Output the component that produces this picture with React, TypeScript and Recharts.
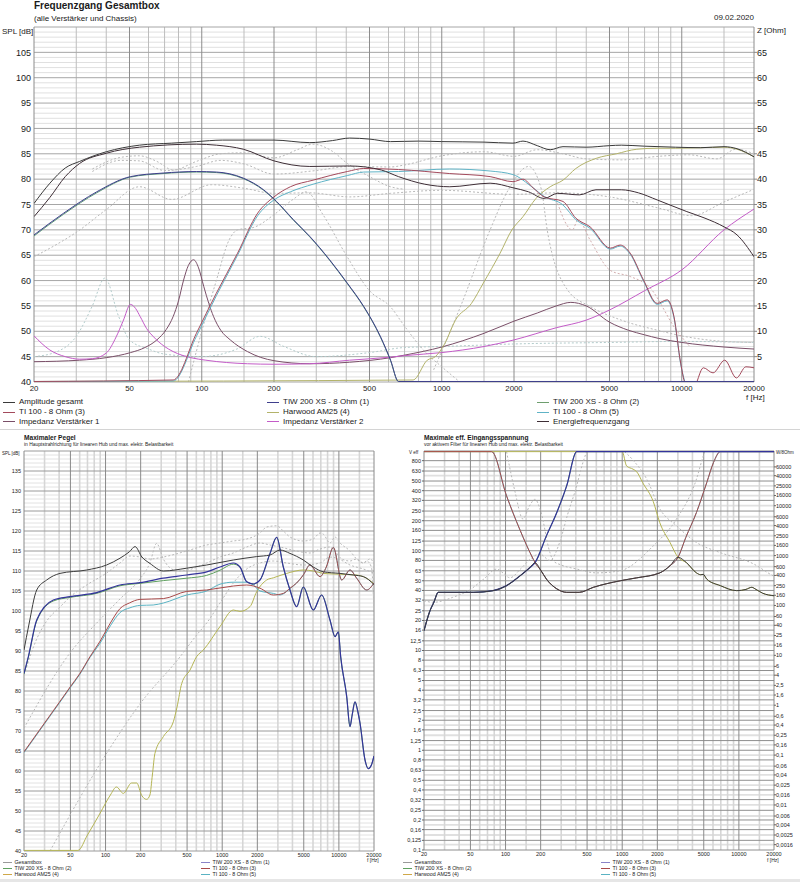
import React from 'react';
import { LineChart, Line, XAxis, YAxis, CartesianGrid } from 'recharts';

type P = [number, number];

// frequency axis shared by all three panels
const FREQ_TICKS = [20, 50, 100, 200, 500, 1000, 2000, 5000, 10000, 20000];
const FREQ_MINOR = [30, 40, 60, 70, 80, 90, 150, 300, 400, 600, 700, 800, 900, 1500, 3000, 4000, 6000, 7000, 8000, 9000, 15000];

// ---------- Frequenzgang Gesamtbox ----------
const SPL_TICKS = [40, 45, 50, 55, 60, 65, 70, 75, 80, 85, 90, 95, 100, 105];
const Z_TICKS = [5, 10, 15, 20, 25, 30, 35, 40, 45, 50, 55, 60, 65];

const AMP_TOTAL: P[] = [[20, 75.2], [23.3, 79.2], [27, 82.2], [31, 83.5], [40, 85.4], [55, 86.7], [75, 87.1], [95, 87.4], [122, 87.7], [200, 87.7], [282, 87.2], [350, 87.6], [413, 88.1], [500, 87.9], [612, 87.4], [800, 87.5], [1000, 87.4], [1500, 87.3], [1980, 87.1], [2180, 87.5], [2500, 86.6], [2830, 85.8], [3200, 86.4], [4000, 86.3], [5000, 86.6], [5600, 86.7], [7000, 86.5], [9400, 86.3], [12000, 86.2], [15000, 86.4], [17000, 86], [20000, 84.4]];
const ENERGY: P[] = [[20, 72.6], [23.3, 76.4], [27, 80.5], [31, 83.1], [40, 85.1], [55, 86.3], [95, 86.9], [115, 86.7], [149, 85.9], [200, 83.6], [282, 82.5], [413, 82.6], [560, 81.8], [660, 80.5], [850, 79], [1080, 78.5], [1590, 79.2], [1980, 78.3], [2300, 77.5], [2670, 76.2], [3040, 77.2], [3750, 76.9], [4390, 77.9], [5600, 77.9], [6600, 77.3], [7900, 75.9], [10500, 73.6], [12500, 72.3], [15000, 70.6], [17000, 69], [20000, 64.7]];
const TIW1_TOP: P[] = [[20, 69], [26.6, 73.3], [36.5, 77.5], [50.5, 80.5], [69, 81.2], [95, 81.5], [115, 81.4], [149, 80.2], [181, 77.9], [205, 75.6], [241, 72], [282, 68.7], [341, 64.1], [404, 59.5], [473, 54.9], [556, 48.9], [612, 44.3], [660, 40.1], [20000, 40.1]];
const TIW2_TOP: P[] = [[20, 68.8], [26.6, 73.1], [36.5, 77.3], [50.5, 80.4], [69, 81.1], [95, 81.4], [115, 81.3], [149, 80.1], [181, 77.8], [205, 75.5], [241, 71.9], [282, 68.6], [341, 64], [404, 59.4], [473, 54.8], [556, 48.8], [612, 44.2], [660, 40.1], [20000, 40.1]];
const TI3_TOP: P[] = [[20, 40.1], [76, 40.4], [95, 49.6], [115, 57.5], [141, 65.4], [171, 73.3], [200, 76.5], [234, 78.5], [291, 79.8], [404, 81.5], [473, 82.1], [660, 81.9], [1080, 81.1], [1590, 80.5], [1980, 79.5], [2180, 80], [2400, 78.3], [2670, 76.5], [3200, 75.6], [3620, 72.3], [4150, 70.6], [5040, 66.4], [5540, 67], [6100, 65.4], [6930, 60.1], [7900, 55.5], [8700, 56.2], [9280, 52.9], [9900, 43.7], [10300, 40], [11200, 39], [12300, 42.8], [13500, 41.8], [15100, 44.3], [16900, 40.8], [18500, 43], [20000, 42.8]];
const TI5_TOP: P[] = [[20, 40.1], [76, 40.2], [95, 49], [115, 57], [141, 65], [171, 72.8], [200, 75.9], [234, 77.5], [291, 79], [404, 80.7], [473, 81.4], [660, 81.5], [1080, 82], [1590, 81.6], [1980, 80.9], [2400, 78.3], [2670, 76.6], [3200, 74.9], [3620, 72], [4150, 70.3], [5040, 66.2], [5540, 66.8], [6100, 65.2], [6930, 59.9], [7900, 55.3], [8700, 56], [9280, 52.7], [9900, 43.5], [10300, 40]];
const AM25_TOP: P[] = [[20, 40.1], [760, 40.4], [870, 44.3], [940, 45], [1030, 47.6], [1140, 52.2], [1330, 55.5], [1490, 59.5], [1750, 65.4], [1960, 70], [2180, 72.6], [2470, 76.2], [2830, 78.5], [3200, 79.8], [3620, 82.1], [4400, 84.1], [5340, 85], [6500, 85.9], [7900, 86.1], [9400, 86.1], [12000, 86.2], [15000, 86.3], [17000, 85.9], [20000, 84.4]];
// impedances in Ohm (right axis)
const IMP_AMP1: P[] = [[20, 4.0], [31, 4.3], [40, 4.8], [50.5, 5.8], [58, 6.8], [65, 8.3], [71, 10.3], [76, 12.9], [80, 16], [84, 20.1], [88, 23], [92.5, 24.1], [97, 22.5], [102, 18.8], [107, 15.5], [112, 12.9], [120, 10.2], [131.5, 8.3], [155, 6], [200, 4.2], [282, 3.6], [413, 3.9], [612, 4.8], [700, 5.3], [1000, 6.9], [1500, 9.6], [2000, 12], [2500, 13.6], [3000, 15], [3450, 15.7], [4000, 15], [5000, 11.8], [6000, 10.2], [7000, 9.3], [8000, 8.6], [10000, 7.8], [15000, 6.9], [20000, 6.5]];
const IMP_AMP2: P[] = [[20, 9.1], [23.3, 6.3], [27, 5], [31, 4.5], [35, 4.6], [40, 5.7], [44, 8.9], [47, 12], [50.5, 15.3], [53, 14.5], [55.4, 12.9], [59, 10.5], [63, 8.9], [70, 7], [76, 6], [90, 4.8], [104, 4.3], [155, 3.6], [200, 3.5], [282, 3.6], [413, 4.3], [612, 4.9], [700, 5.2], [1000, 5.8], [1500, 7], [2000, 8.3], [3000, 10.7], [4000, 12.2], [5000, 14.2], [7000, 18], [10000, 22.1], [15000, 30], [20000, 34.1]];
// unlabelled dotted reference curves
const TOP_REF1: P[] = [[35, 82], [46, 84.3], [55, 84.6], [65, 83.5], [76, 81.8], [95, 83.5], [120, 85], [150, 85.2], [200, 84.2], [250, 85.8], [290, 86.9], [350, 85.5], [404, 83.1], [500, 80.5], [612, 78.5], [700, 78]];
const TOP_REF2: P[] = [[35, 81.5], [46, 83.7], [55, 83.6], [70, 81.7], [95, 82.5], [120, 83.7], [150, 83], [200, 81], [300, 81.7], [413, 82.5], [612, 82.4], [700, 82.8], [1000, 84.6], [1500, 85.4], [2000, 84.5], [2500, 85.8], [3200, 85], [4000, 84], [5600, 83.8], [8000, 84.5], [10700, 84.8], [14000, 84], [16800, 85.9], [20000, 85]];
const TOP_REF3: P[] = [[20, 64.7], [25, 67.2], [30, 69.5], [40, 74], [55, 78.5], [75, 76], [110, 78.9], [150, 78.2], [200, 77.2], [282, 77.3], [413, 76.5], [612, 77.2], [1000, 77.8], [2000, 77], [3000, 77.3], [5000, 76.5], [8000, 74.3], [11000, 72.8], [15000, 75.5], [20000, 78]];
const TOP_REF4: P[] = [[88, 40], [100, 50], [115, 60], [130, 68], [141, 70], [165, 70.5], [200, 73], [240, 76], [273, 77.5], [320, 73], [400, 65], [500, 58], [612, 54.8], [700, 51], [850, 46], [1000, 43], [1190, 40]];
const TOP_REF5: P[] = [[20, 45], [25, 46], [30, 49], [35, 55], [39.5, 60.5], [45, 53], [50, 48.3], [60, 46.5], [70, 45.5], [100, 45], [140, 46.5], [175, 49], [220, 47], [300, 45], [500, 45.8], [700, 46.8], [1000, 47], [2000, 47.5], [5000, 47.8], [10000, 48], [20000, 47.8]];
const TOP_REF6: P[] = [[925, 42.4], [1200, 55], [1590, 70], [1900, 78], [2300, 82.5], [2600, 78], [2750, 70], [3350, 58.1], [4150, 54.9], [5600, 52.2], [7930, 50.2], [10500, 48.9], [15000, 48], [20000, 47.8]];
const TOP_REF7: P[] = [[3000, 76], [3500, 70], [3700, 72], [4150, 68], [5040, 62], [6100, 60.8], [7300, 58.8], [9500, 50.2], [10800, 47]];

// ---------- Maximaler Pegel ----------
const MAX_SPL_TICKS = [40, 45, 50, 55, 60, 65, 70, 75, 80, 85, 90, 95, 100, 105, 110, 115, 120, 125, 130, 135];

const BOX_MAX: P[] = [[20, 90.25], [22, 96.5], [25.7, 105.25], [31.3, 107.75], [40.7, 109.4], [68.9, 110.25], [102, 111.5], [133, 113.2], [160, 114.8], [179, 116.1], [205, 113.5], [240, 111.9], [313, 110], [496, 110.7], [736, 111.5], [1245, 112.75], [1973, 113.6], [2570, 114], [3128, 115.25], [3810, 114.4], [4955, 112.75], [6035, 111], [7360, 109.8], [10230, 109.4], [13300, 109], [16200, 108.6], [20000, 106.6]];
const TIW1_MAX: P[] = [[20, 84.4], [21.8, 88.6], [25.7, 97.75], [35.7, 102.75], [49.6, 103.6], [84, 104.6], [133, 106.5], [197, 107.1], [313, 108.2], [496, 109], [736, 109.8], [957, 111], [1245, 112], [1420, 111], [1622, 107.3], [1849, 106.75], [2108, 107.75], [2570, 114.4], [2930, 118.4], [3340, 111], [3810, 105.25], [4345, 101.1], [4955, 106], [6035, 100.25], [7115, 104], [8390, 97.75], [9270, 93.6], [9890, 94.8], [10360, 88.6], [11670, 78.6], [12450, 71.1], [13000, 74], [13740, 77.3], [14500, 75], [15170, 72], [16750, 62.75], [17880, 60.6], [19000, 61.5], [20000, 63.75]];
const TIW2_MAX: P[] = [[20, 84.2], [21.8, 88.4], [25.7, 97.5], [35.7, 102.5], [49.6, 103.4], [84, 104.4], [133, 106.3], [197, 106.9], [313, 107.6], [496, 108.2], [736, 108.9], [957, 110.2], [1245, 111.7], [1420, 111], [1622, 107.3], [1849, 106.75], [2108, 107.75], [2570, 114.4], [2930, 118.4], [3340, 111], [3810, 105.25], [4345, 101.1], [4955, 106], [6035, 100.25], [7115, 104], [8390, 97.75], [9270, 93.6], [9890, 94.8], [10360, 88.6], [11670, 78.6], [12450, 71.1], [13000, 74], [13740, 77.3], [14500, 75], [15170, 72], [16750, 62.75], [17880, 60.6], [19000, 61.5], [20000, 63.75]];
const TI3_MAX: P[] = [[20, 64.8], [30, 72], [40, 77.1], [50, 81.1], [60, 84.3], [73.6, 88.6], [90, 92.5], [110, 97], [133, 100.6], [160, 102], [197, 102.9], [313, 103.1], [496, 104.9], [736, 105.25], [1245, 106.25], [1622, 106.5], [2108, 105.7], [2743, 104], [3340, 104.4], [3810, 105.7], [4345, 107], [4955, 109], [5650, 111.5], [6890, 108.6], [7800, 111], [8960, 115.9], [10570, 107.75], [12450, 110.25], [14200, 108.2], [17300, 105.25], [20000, 107]];
const TI5_MAX: P[] = [[20, 64.6], [30, 71.8], [40, 76.9], [50, 80.9], [60, 84.1], [73.6, 88.4], [90, 92], [110, 96.3], [133, 99.6], [162, 100.8], [197, 101.4], [256, 101.5], [313, 102], [496, 104], [736, 105], [957, 106.7], [1245, 107.2], [1622, 107.2], [1849, 106.5], [2108, 105], [2743, 104.4], [3128, 104], [3340, 104.3], [3810, 105.6], [4345, 107], [4955, 109], [5650, 111.5], [6890, 108.6], [7800, 111], [8960, 115.9], [10570, 107.75], [12450, 110.25], [14200, 108.2], [17300, 105.25], [20000, 107]];
const AM25_MAX: P[] = [[20, 40.15], [58, 40.15], [70, 44], [90, 49.5], [110, 54], [124, 56], [142, 54.4], [167, 57], [185, 57], [204, 53.9], [225, 52.9], [240, 54], [252, 59], [265, 64.4], [313, 68.6], [381, 72.3], [410, 76], [450, 81.9], [530, 85.25], [604, 88.6], [689, 90.25], [957, 96.1], [1245, 100.25], [1420, 99.9], [1731, 101.1], [1973, 104.8], [2405, 107.75], [2743, 108.3], [3570, 109.4], [4955, 110.25], [6035, 110], [7360, 109.4], [10000, 109.2], [14000, 109], [17000, 108.3], [20000, 106.8]];
const MAX_REF1: P[] = [[20, 84], [25.7, 93], [31.3, 97.5], [40.7, 101], [49.6, 103.5], [68.9, 106.5], [102, 109.5], [133, 112], [162, 113.75], [197, 113.5], [240, 113], [313, 113.5], [496, 115], [736, 116.5], [957, 117], [1245, 117.5], [1622, 118], [2108, 119.5], [2405, 121], [2930, 121.3], [3340, 120], [3810, 118.5], [4955, 117.5], [6035, 118], [6890, 119.5], [7360, 119.2], [8390, 117], [9270, 118.5], [10230, 117], [12450, 115], [14200, 113], [16200, 112], [17300, 112.5], [19000, 111], [20000, 100]];
const MAX_REF2: P[] = [[20, 70.7], [52, 90.3], [84, 97], [133, 103], [197, 108], [240, 112], [274, 116.9], [313, 113], [350, 111], [420, 110], [496, 110.2], [736, 112], [957, 113.5], [1245, 114.5], [1622, 116], [2108, 117], [2570, 116.5], [3128, 116], [4345, 115], [5650, 114.5], [6890, 115.5], [8390, 116], [9270, 115], [10570, 113], [12450, 112.5], [14200, 113], [16200, 112], [18500, 113], [20000, 112]];
const MAX_REF3: P[] = [[33.4, 40], [100, 64], [200, 77], [434, 88.5], [604, 94], [736, 97], [957, 102], [1245, 107], [1622, 110.5], [2108, 112], [2743, 112.5], [3570, 112], [4955, 111.5], [6890, 112], [8390, 113.5], [10000, 113], [12450, 111.5], [16200, 110.5], [20000, 109.5]];

// ---------- Maximale eff. Eingangsspannung ----------
const VOLT_TICKS = [800, 630, 500, 400, 320, 250, 200, 160, 125, 100, 80, 63, 50, 40, 32, 25, 20, 16, 12.5, 10, 8, 6.3, 5, 4, 3.2, 2.5, 2, 1.6, 1.25, 1, 0.8, 0.63, 0.5, 0.4, 0.32, 0.25, 0.2, 0.16, 0.125, 0.1];
const WATT_TICKS = [60000, 40000, 25000, 16000, 10000, 6000, 4000, 2500, 1600, 1000, 600, 400, 250, 160, 100, 60, 40, 25, 16, 10, 6, 4, 2.5, 1.6, 1, 0.6, 0.4, 0.25, 0.16, 0.1, 0.06, 0.04, 0.025, 0.016, 0.01, 0.006, 0.004, 0.0025, 0.0016];

const BOX_VOLT: P[] = [[20, 15.8], [22.5, 25], [24.3, 30.4], [26.5, 38.3], [53, 38.3], [78, 39.8], [102, 44.7], [133, 56], [162, 68], [179, 76], [200, 64], [224, 52], [275, 41.5], [334, 38.3], [428, 38.3], [566, 43], [960, 50], [1330, 53.5], [2100, 60], [2570, 70.8], [3010, 86], [3550, 76], [4330, 60], [4700, 57.5], [4950, 58], [5300, 52], [6930, 44.7], [9600, 39.8], [11500, 41], [12900, 43], [14000, 41], [16000, 37.5], [20000, 35.4]];
const TIW1_VOLT: P[] = [[20, 15.8], [22.5, 25], [24.3, 30.4], [26.5, 38.3], [53, 38.3], [78, 39.8], [102, 44.7], [133, 56], [162, 68], [179, 76], [224, 141], [275, 242], [334, 447], [407, 985], [20000, 985]];
const TI3_VOLT: P[] = [[20, 985], [76, 985], [102, 355], [132, 165], [173, 82], [179, 76], [200, 64], [224, 52], [275, 41.5], [334, 38.3], [428, 38.3], [566, 43], [960, 50], [1330, 53.5], [2100, 60], [2570, 70.8], [3010, 86], [3500, 135], [4330, 242], [5300, 481], [6060, 766], [6930, 985], [20000, 985]];
const AM25_VOLT: P[] = [[20, 985], [1000, 985], [1090, 708], [1240, 657], [1330, 620], [1500, 480], [1846, 311], [2100, 191], [2570, 121], [3010, 86], [3550, 76], [4330, 60], [4700, 57.5], [4950, 58], [5300, 52], [6930, 44.7], [9600, 39.8], [11500, 41], [12900, 43], [14000, 41], [16000, 37.5], [20000, 35.4]];
const VOLT_REF1: P[] = [[20, 31.6], [24, 30.4], [35, 34], [50, 41], [65, 52], [84, 65.6], [95, 60], [109, 53.5], [135, 66], [162, 82], [196, 93], [240, 80], [290, 120], [340, 230], [407, 447], [450, 700], [495, 985]];
const VOLT_REF2: P[] = [[102, 985], [120, 400], [141, 208], [160, 280], [179, 328], [200, 250], [240, 96], [257, 79], [300, 72], [407, 65.6], [604, 60], [957, 63], [1846, 112], [2920, 208], [4330, 523], [4950, 891], [5100, 985]];
const VOLT_REF3: P[] = [[1050, 985], [1250, 800], [1622, 523], [2110, 261], [2920, 178], [4330, 121], [6890, 96], [13300, 74], [19700, 56], [20000, 55.5]];

const FONT = '"Liberation Sans", Arial, sans-serif';
const DOT = '#b9b9b9';

type Series = { id: string; data: P[]; color: string; dash?: string; axis?: string; w?: number };

const rows = (a: P[]) => a.map(([f, v]) => ({ f, v }));
const comma = (v: number) => String(v).replace('.', ',');

function lines(list: Series[], axis: string) {
  return list.map((s) => (
    <Line
      key={s.id}
      name={s.id}
      data={rows(s.data)}
      dataKey="v"
      xAxisId="f"
      yAxisId={s.axis ?? axis}
      type="monotone"
      stroke={s.color}
      strokeWidth={s.w ?? 1}
      strokeDasharray={s.dash}
      dot={false}
      activeDot={false}
      isAnimationActive={false}
    />
  ));
}

function Txt({ x, y, size, bold, right, children }: { x: number; y: number; size: number; bold?: boolean; right?: boolean; children: React.ReactNode }) {
  const pos = right ? { right: 800 - x } : { left: x };
  return (
    <div style={{ position: 'absolute', top: y, ...pos, fontSize: size, fontWeight: bold ? 700 : 400, lineHeight: 1, whiteSpace: 'nowrap', color: '#1a1a1a' }}>
      {children}
    </div>
  );
}

type Entry = { label: string; color: string; x: number; y: number };

function Legend({ items, size, len, gap }: { items: Entry[]; size: number; len: number; gap: number }) {
  return (
    <>
      {items.map((it) => (
        <div key={it.label + it.x + it.y} style={{ position: 'absolute', left: it.x, top: it.y - size / 2, height: size, display: 'flex', alignItems: 'center', fontSize: size, lineHeight: 1, whiteSpace: 'nowrap', color: '#1a1a1a' }}>
          <span style={{ display: 'inline-block', width: len, height: 1, background: it.color, marginRight: gap }} />
          {it.label}
        </div>
      ))}
    </>
  );
}

const topSeries: Series[] = [
  { id: 'ref5', data: TOP_REF5, color: '#b3cccc', dash: '2 2' },
  { id: 'ref4', data: TOP_REF4, color: DOT, dash: '2 2' },
  { id: 'ref3', data: TOP_REF3, color: DOT, dash: '2 2' },
  { id: 'ref2', data: TOP_REF2, color: DOT, dash: '2 2' },
  { id: 'ref1', data: TOP_REF1, color: DOT, dash: '2 2' },
  { id: 'ref6', data: TOP_REF6, color: DOT, dash: '2 2' },
  { id: 'ref7', data: TOP_REF7, color: '#d2adad', dash: '2 2' },
  { id: 'imp1', data: IMP_AMP1, color: '#7a4f68', axis: 'z' },
  { id: 'imp2', data: IMP_AMP2, color: '#c45cc8', axis: 'z' },
  { id: 'am25', data: AM25_TOP, color: '#b3b36a' },
  { id: 'ti5', data: TI5_TOP, color: '#5fb3c6' },
  { id: 'ti3', data: TI3_TOP, color: '#a34a5c' },
  { id: 'tiw2', data: TIW2_TOP, color: '#5d9a78' },
  { id: 'tiw1', data: TIW1_TOP, color: '#3f3f8c' },
  { id: 'energy', data: ENERGY, color: '#3e2e36' },
  { id: 'amp', data: AMP_TOTAL, color: '#3a3a3a' },
];

const maxSeries: Series[] = [
  { id: 'r3', data: MAX_REF3, color: DOT, dash: '2 2' },
  { id: 'r2', data: MAX_REF2, color: DOT, dash: '2 2' },
  { id: 'r1', data: MAX_REF1, color: DOT, dash: '2 2' },
  { id: 'am25', data: AM25_MAX, color: '#b5b555' },
  { id: 'ti5', data: TI5_MAX, color: '#5ab3c3' },
  { id: 'ti3', data: TI3_MAX, color: '#a84a4a' },
  { id: 'tiw2', data: TIW2_MAX, color: '#5fa05f' },
  { id: 'tiw1', data: TIW1_MAX, color: '#34349c', w: 1.2 },
  { id: 'box', data: BOX_MAX, color: '#3c3c3c' },
];

const voltSeries: Series[] = [
  { id: 'r1', data: VOLT_REF1, color: DOT, dash: '2 2' },
  { id: 'r2', data: VOLT_REF2, color: DOT, dash: '2 2' },
  { id: 'r3', data: VOLT_REF3, color: DOT, dash: '2 2' },
  { id: 'tiw2', data: TIW1_VOLT, color: '#5fa05f' },
  { id: 'ti5', data: TI3_VOLT, color: '#5ab3c3' },
  { id: 'am25', data: AM25_VOLT, color: '#b5b555' },
  { id: 'ti3', data: TI3_VOLT, color: '#a84a4a' },
  { id: 'tiw1', data: TIW1_VOLT, color: '#34349c', w: 1.2 },
  { id: 'box', data: BOX_VOLT, color: '#3c3c3c' },
];

const range = (a: number, b: number) => Array.from({ length: b - a + 1 }, (_, i) => a + i);
const SPL_MAJOR = [...SPL_TICKS, 110];
const SPL_MINOR = range(40, 110).filter((v) => v % 5 !== 0);
const MAX_MAJOR = [...MAX_SPL_TICKS, 140];
const MAX_MINOR = range(40, 140).filter((v) => v % 5 !== 0);

export default function App() {
  const tick = (size: number) => ({ fontSize: size, fill: '#1a1a1a' });
  return (
    <div style={{ position: 'absolute', left: 0, top: 0, width: 800, height: 882, background: '#fff', overflow: 'hidden', fontFamily: FONT }}>
      {/* top panel */}
      <Txt x={34} y={1} size={10} bold>Frequenzgang Gesamtbox</Txt>
      <Txt x={34} y={14.5} size={8}>(alle Verstärker und Chassis)</Txt>
      <Txt x={754} y={13.5} size={8} right>09.02.2020</Txt>
      <Txt x={2} y={27.5} size={8}>SPL [dB]</Txt>
      <Txt x={757} y={27} size={8}>Z [Ohm]</Txt>
      <Txt x={746} y={394} size={8}>f [Hz]</Txt>
      <div style={{ position: 'absolute', left: 0, top: 0 }}>
        <LineChart width={800} height={405} margin={{ top: 27, right: 0, bottom: 0, left: 0 }}>
          <CartesianGrid xAxisId="f" yAxisId="spl" vertical={false} horizontalValues={SPL_MINOR} stroke="#e0e0e0" />
          <CartesianGrid xAxisId="f" yAxisId="spl" horizontal={false} verticalValues={FREQ_MINOR} stroke="#bdbdbd" />
          <CartesianGrid xAxisId="f" yAxisId="spl" vertical={false} horizontalValues={SPL_MAJOR} stroke="#a6a6a6" />
          <CartesianGrid xAxisId="f" yAxisId="spl" horizontal={false} verticalValues={FREQ_TICKS} stroke="#8c8c8c" />
          <XAxis xAxisId="f" dataKey="f" type="number" scale="log" domain={[20, 20000]} allowDataOverflow ticks={FREQ_TICKS} interval={0} height={23} tickLine={false} axisLine={false} tickSize={3} tickMargin={0} tick={tick(7.8)} />
          <YAxis yAxisId="spl" type="number" domain={[40, 110]} allowDataOverflow ticks={SPL_TICKS} interval={0} width={34} tickLine={false} axisLine={false} tickSize={3} tickMargin={0} tick={tick(9)} />
          <YAxis yAxisId="z" orientation="right" type="number" domain={[0, 70]} allowDataOverflow ticks={Z_TICKS} interval={0} width={46} tickLine={{ stroke: '#888' }} axisLine={false} tickSize={3} tickMargin={0} tick={tick(9)} />
          {lines(topSeries, 'spl')}
        </LineChart>
      </div>
      <Legend
        size={8}
        len={12}
        gap={4}
        items={[
          { label: 'Amplitude gesamt', color: '#3a3a3a', x: 3, y: 402.3 },
          { label: 'TI 100 - 8 Ohm (3)', color: '#a34a5c', x: 3, y: 412 },
          { label: 'Impedanz Verstärker 1', color: '#7a4f68', x: 3, y: 421.7 },
          { label: 'TIW 200 XS - 8 Ohm (1)', color: '#3f3f8c', x: 267, y: 402.3 },
          { label: 'Harwood AM25 (4)', color: '#b3b36a', x: 267, y: 412 },
          { label: 'Impedanz Verstärker 2', color: '#c45cc8', x: 267, y: 421.7 },
          { label: 'TIW 200 XS - 8 Ohm (2)', color: '#6e9e6e', x: 537, y: 402.3 },
          { label: 'TI 100 - 8 Ohm (5)', color: '#5fb3c6', x: 537, y: 412 },
          { label: 'Energiefrequenzgang', color: '#3e2e36', x: 537, y: 421.7 },
        ]}
      />
      <div style={{ position: 'absolute', left: 0, top: 429, width: 800, height: 1, background: '#d4d4d4' }} />

      {/* bottom left panel */}
      <Txt x={24} y={434.7} size={6.6} bold>Maximaler Pegel</Txt>
      <Txt x={24} y={442.6} size={4.9}>in Hauptstrahlrichtung für linearen Hub und max. elektr. Belastbarkeit</Txt>
      <Txt x={2} y={451.5} size={4.5}>SPL [dB]</Txt>
      <Txt x={367} y={858} size={5}>f [Hz]</Txt>
      <div style={{ position: 'absolute', left: 0, top: 440 }}>
        <LineChart width={400} height={425} margin={{ top: 11, right: 26, bottom: 0, left: 0 }}>
          <CartesianGrid xAxisId="f" yAxisId="spl" vertical={false} horizontalValues={MAX_MINOR} stroke="#e2e2e2" />
          <CartesianGrid xAxisId="f" yAxisId="spl" horizontal={false} verticalValues={FREQ_MINOR} stroke="#d6d6d6" strokeWidth={1.6} />
          <CartesianGrid xAxisId="f" yAxisId="spl" vertical={false} horizontalValues={MAX_MAJOR} stroke="#9a9a9a" />
          <CartesianGrid xAxisId="f" yAxisId="spl" horizontal={false} verticalValues={FREQ_TICKS} stroke="#8a8a8a" />
          <XAxis xAxisId="f" dataKey="f" type="number" scale="log" domain={[20, 20000]} allowDataOverflow ticks={FREQ_TICKS} interval={0} height={14} tickLine={false} axisLine={false} tickSize={2} tickMargin={0} tick={tick(5.5)} />
          <YAxis yAxisId="spl" type="number" domain={[40, 140]} allowDataOverflow ticks={MAX_SPL_TICKS} interval={0} width={24} tickLine={false} axisLine={false} tickSize={3} tickMargin={0} tick={tick(5.5)} />
          {lines(maxSeries, 'spl')}
        </LineChart>
      </div>
      <Legend
        size={5.3}
        len={9}
        gap={2.5}
        items={[
          { label: 'Gesamtbox', color: '#9a9a9a', x: 3, y: 862.3 },
          { label: 'TIW 200 XS - 8 Ohm (2)', color: '#5fa05f', x: 3, y: 868.7 },
          { label: 'Harwood AM25 (4)', color: '#d0a848', x: 3, y: 875 },
          { label: 'TIW 200 XS - 8 Ohm (1)', color: '#8a84c8', x: 201, y: 862.3 },
          { label: 'TI 100 - 8 Ohm (3)', color: '#a84a4a', x: 201, y: 868.7 },
          { label: 'TI 100 - 8 Ohm (5)', color: '#5ab3c3', x: 201, y: 875 },
        ]}
      />

      {/* bottom right panel */}
      <Txt x={424} y={434.7} size={6.6} bold>Maximale eff. Eingangsspannung</Txt>
      <Txt x={424} y={442.6} size={4.9}>vor aktivem Filter für linearen Hub und max. elektr. Belastbarkeit</Txt>
      <Txt x={409} y={450.7} size={4.5}>V eff</Txt>
      <Txt x={776} y={450.7} size={4.5}>W/8Ohm</Txt>
      <Txt x={767} y={858} size={5}>f [Hz]</Txt>
      <div style={{ position: 'absolute', left: 400, top: 440 }}>
        <LineChart width={400} height={425} margin={{ top: 11, right: 0, bottom: 0, left: 0 }}>
          <CartesianGrid xAxisId="f" yAxisId="w" vertical={false} horizontalValues={WATT_TICKS} stroke="#e0e0e0" strokeWidth={1.8} />
          <CartesianGrid xAxisId="f" yAxisId="v" horizontal={false} verticalValues={FREQ_MINOR} stroke="#d6d6d6" strokeWidth={1.6} />
          <CartesianGrid xAxisId="f" yAxisId="v" vertical={false} horizontalValues={[1000, ...VOLT_TICKS]} stroke="#8e8e8e" />
          <CartesianGrid xAxisId="f" yAxisId="v" horizontal={false} verticalValues={FREQ_TICKS} stroke="#8a8a8a" />
          <XAxis xAxisId="f" dataKey="f" type="number" scale="log" domain={[20, 20000]} allowDataOverflow ticks={FREQ_TICKS} interval={0} height={15} tickLine={false} axisLine={false} tickSize={2} tickMargin={0} tick={tick(5.5)} />
          <YAxis yAxisId="v" type="number" scale="log" domain={[0.1, 1000]} allowDataOverflow ticks={VOLT_TICKS} interval={0} width={24} tickFormatter={comma} tickLine={{ stroke: '#666' }} axisLine={false} tickSize={2} tickMargin={1} tick={tick(5.5)} />
          <YAxis yAxisId="w" orientation="right" type="number" scale="log" domain={[0.00125, 125000]} allowDataOverflow ticks={WATT_TICKS} interval={0} width={26} tickFormatter={comma} tickLine={{ stroke: '#666' }} axisLine={false} tickSize={2} tickMargin={0} tick={tick(5.5)} />
          {lines(voltSeries, 'v')}
        </LineChart>
      </div>
      <Legend
        size={5.3}
        len={9}
        gap={2.5}
        items={[
          { label: 'Gesamtbox', color: '#9a9a9a', x: 403, y: 862.3 },
          { label: 'TIW 200 XS - 8 Ohm (2)', color: '#5fa05f', x: 403, y: 868.7 },
          { label: 'Harwood AM25 (4)', color: '#d0a848', x: 403, y: 875 },
          { label: 'TIW 200 XS - 8 Ohm (1)', color: '#8a84c8', x: 601, y: 862.3 },
          { label: 'TI 100 - 8 Ohm (3)', color: '#a84a4a', x: 601, y: 868.7 },
          { label: 'TI 100 - 8 Ohm (5)', color: '#5ab3c3', x: 601, y: 875 },
        ]}
      />
      <div style={{ position: 'absolute', left: 0, top: 879, width: 800, height: 3, background: '#e6e6e6' }} />
    </div>
  );
}
